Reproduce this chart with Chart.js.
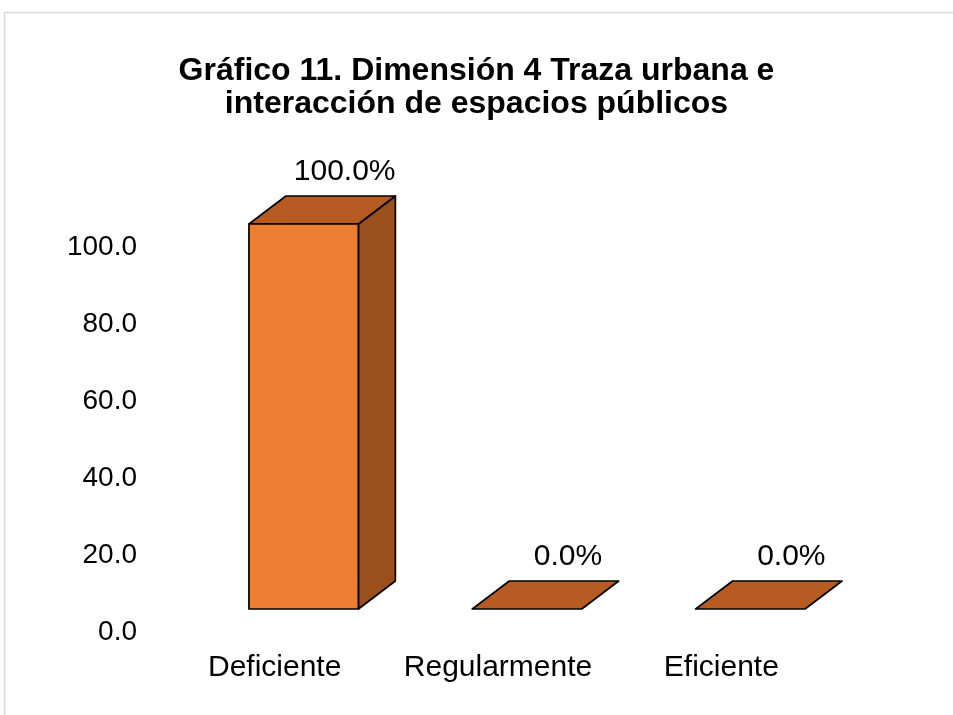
<!DOCTYPE html>
<html>
<head>
<meta charset="utf-8">
<script src="https://cdn.jsdelivr.net/npm/chart.js@4"></script>
<style>
  html, body { margin: 0; padding: 0; background: #ffffff; }
  #wrap { position: relative; width: 953px; height: 715px; }
</style>
</head>
<body>
<div id="wrap"><canvas id="c" width="953" height="715"></canvas></div>
<script>
// ---- data ----
const categories = ['Deficiente', 'Regularmente', 'Eficiente'];
const values = [100.0, 0.0, 0.0];
const dataLabels = ['100.0%', '0.0%', '0.0%'];
const yTicks = [0, 20, 40, 60, 80, 100];
const titleLines = ['Gráfico 11. Dimensión 4 Traza urbana e', 'interacción de espacios públicos'];

// ---- style ----
const FRONT = '#ED7D31';
const TOP = '#B65C22';
const SIDE = '#9A4F1D';
const DEPTH_X = 37, DEPTH_Y = -28;
const FRONT_DX = 29, FRONT_DY = -23;
const FONT = '"Liberation Sans", Arial, sans-serif';

const bars3d = {
  id: 'bars3d',
  beforeDraw(chart) {
    const ctx = chart.ctx;
    ctx.save();
    // outer chart border (partially visible)
    ctx.strokeStyle = '#D9D9D9';
    ctx.lineWidth = 1.5;
    ctx.beginPath();
    ctx.moveTo(4.5, 715);
    ctx.lineTo(4.5, 12.5);
    ctx.lineTo(953, 12.5);
    ctx.stroke();
    // title
    ctx.fillStyle = '#000000';
    ctx.font = 'bold 32px ' + FONT;
    ctx.textAlign = 'center';
    ctx.textBaseline = 'middle';
    titleLines.forEach((t, i) => ctx.fillText(t, 476.5, 71 + i * 33));
    ctx.restore();
  },
  afterDatasetsDraw(chart) {
    const ctx = chart.ctx;
    const meta = chart.getDatasetMeta(0);
    const yScale = chart.scales.y;
    ctx.save();
    ctx.lineWidth = 1.7;
    ctx.strokeStyle = '#000000';
    ctx.lineJoin = 'round';
    meta.data.forEach((el, i) => {
      const cx = el.x + FRONT_DX;
      const w = el.width;
      const x0 = cx - w / 2, x1 = cx + w / 2;
      const yb = yScale.getPixelForValue(0) + FRONT_DY;
      const yt = yScale.getPixelForValue(values[i]) + FRONT_DY;
      const dx = DEPTH_X, dy = DEPTH_Y;
      if (yb - yt > 0.5) {
        ctx.beginPath();
        ctx.moveTo(x1, yt); ctx.lineTo(x1 + dx, yt + dy);
        ctx.lineTo(x1 + dx, yb + dy); ctx.lineTo(x1, yb); ctx.closePath();
        ctx.fillStyle = SIDE; ctx.fill(); ctx.stroke();
      }
      ctx.beginPath();
      ctx.moveTo(x0, yt); ctx.lineTo(x0 + dx, yt + dy);
      ctx.lineTo(x1 + dx, yt + dy); ctx.lineTo(x1, yt); ctx.closePath();
      ctx.fillStyle = TOP; ctx.fill(); ctx.stroke();
      if (yb - yt > 0.5) {
        ctx.beginPath();
        ctx.rect(x0, yt, w, yb - yt);
        ctx.fillStyle = FRONT; ctx.fill(); ctx.stroke();
      }
      ctx.fillStyle = '#000000';
      ctx.font = '30px ' + FONT;
      ctx.textAlign = 'center';
      ctx.textBaseline = 'middle';
      ctx.fillText(dataLabels[i], cx + 41, yt + dy - 24);
    });
    ctx.restore();
  }
};

new Chart(document.getElementById('c'), {
  type: 'bar',
  data: {
    labels: categories,
    datasets: [{
      data: values,
      backgroundColor: 'rgba(0,0,0,0)',
      borderWidth: 0,
      categoryPercentage: 1.0,
      barPercentage: 0.49
    }]
  },
  options: {
    responsive: false,
    animation: false,
    devicePixelRatio: 1,
    layout: { padding: { left: 0, right: 120, top: 247, bottom: 11 } },
    plugins: {
      legend: { display: false },
      tooltip: { enabled: false },
      title: { display: false }
    },
    scales: {
      x: {
        grid: { display: false, drawTicks: false },
        border: { display: false },
        ticks: { color: '#000000', font: { family: FONT, size: 30 }, padding: 18 }
      },
      y: {
        min: 0, max: 100,
        afterBuildTicks(scale) { scale.ticks = yTicks.map(v => ({ value: v })); },
        afterFit(scale) { scale.width = 163; },
        grid: { display: false, drawTicks: false },
        border: { display: false },
        ticks: {
          color: '#000000',
          font: { family: FONT, size: 28 },
          padding: 26,
          callback: v => Number(v).toFixed(1)
        }
      }
    }
  },
  plugins: [bars3d]
});
</script>
</body>
</html>
